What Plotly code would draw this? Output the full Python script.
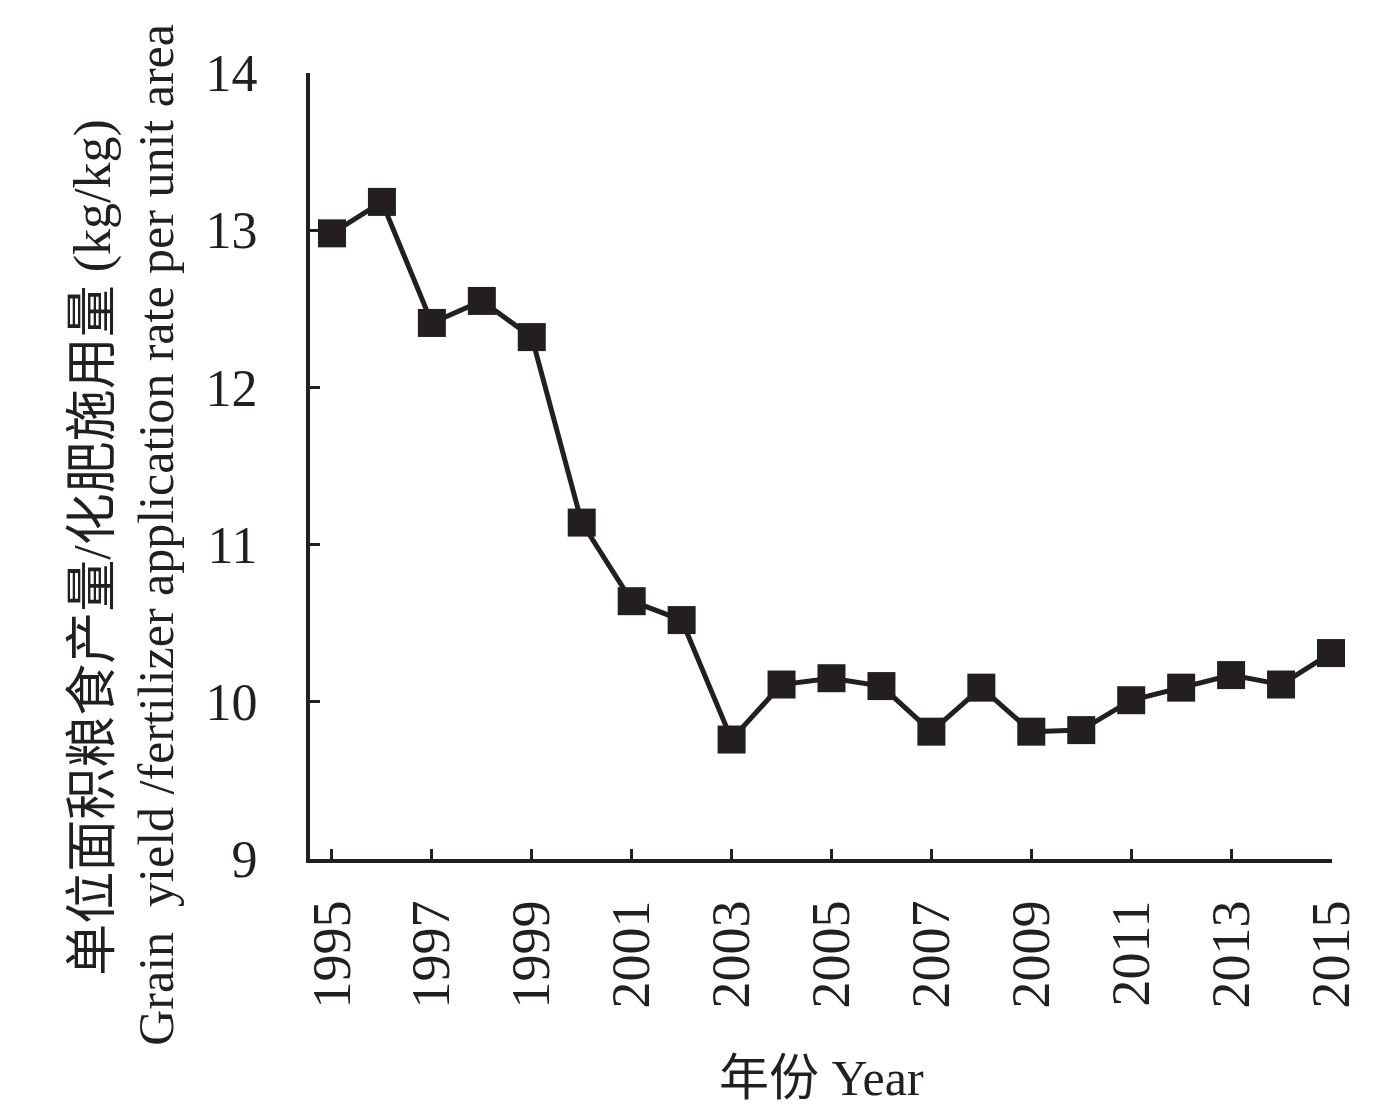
import plotly.graph_objects as go

years = list(range(1995, 2016))
ratio = [12.98, 13.18, 12.41, 12.55, 12.32, 11.14, 10.64, 10.52, 9.76, 10.11, 10.15,
         10.10, 9.81, 10.09, 9.81, 9.82, 10.01, 10.09, 10.17, 10.11, 10.31]
x_ticks = list(range(1995, 2016, 2))
y_ticks = [9, 10, 11, 12, 13, 14]
y_title_cn = "单位面积粮食产量/化肥施用量 (kg/kg)"
y_title_en = "Grain  yield /fertilizer application rate per unit area"
x_title = "年份 Year"

ink = "#231f20"
font_fam = "Liberation Serif, Times New Roman, Noto Sans CJK SC, serif"

fig = go.Figure()
fig.add_trace(go.Scatter(
    x=years, y=ratio, mode="lines+markers",
    line=dict(color=ink, width=5),
    marker=dict(symbol="square", size=28, color=ink),
    showlegend=False, cliponaxis=False,
))

fig.update_layout(
    template="none",
    width=1370, height=1106,
    margin=dict(l=302, r=46, t=65, b=255),
    paper_bgcolor="white", plot_bgcolor="white",
    font=dict(family=font_fam, color=ink),
    xaxis=dict(
        range=[1994.56, 2015.02], tickvals=x_ticks, ticktext=[str(v) for v in x_ticks],
        tickangle=-90, ticks="inside", ticklen=10, tickwidth=3, tickcolor=ink,
        showline=True, linewidth=4, linecolor=ink, showgrid=False, zeroline=False,
        tickfont=dict(size=54, color=ink), ticklabelstandoff=16, automargin=False,
    ),
    yaxis=dict(
        range=[9, 14], tickvals=y_ticks, ticks="inside", ticklen=10, tickwidth=3,
        tickcolor=ink, showline=True, linewidth=4, linecolor=ink, showgrid=False,
        zeroline=False, tickfont=dict(size=52, color=ink), ticklabelstandoff=38,
        automargin=False,
    ),
    annotations=[
        dict(text=y_title_cn, xref="paper", yref="paper", x=-0.2123, y=0.396,
             textangle=-90, showarrow=False, xanchor="center", yanchor="middle",
             font=dict(size=52, color=ink, family=font_fam)),
        dict(text=y_title_en, xref="paper", yref="paper", x=-0.1507, y=0.4125,
             textangle=-90, showarrow=False, xanchor="center", yanchor="middle",
             font=dict(size=50, color=ink, family=font_fam)),
        dict(text=x_title, xref="paper", yref="paper", x=0.5, y=-0.2786,
             showarrow=False, xanchor="center", yanchor="middle",
             font=dict(size=50, color=ink, family=font_fam)),
    ],
)

fig.write_html("out.html")
